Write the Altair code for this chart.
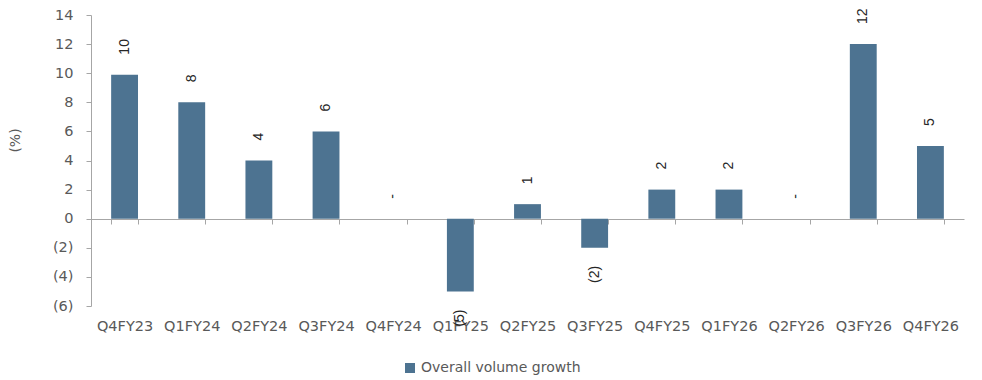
import altair as alt
import pandas as pd

quarters = ["Q4FY23", "Q1FY24", "Q2FY24", "Q3FY24", "Q4FY24", "Q1FY25", "Q2FY25",
            "Q3FY25", "Q4FY25", "Q1FY26", "Q2FY26", "Q3FY26", "Q4FY26"]
growth = [9.9, 8, 4, 6, 0, -5, 1, -2, 2, 2, 0, 12, 5]
series_name = "Overall volume growth"


def fmt(v):
    r = int(round(v))
    if r == 0:
        return "-"
    if r < 0:
        return f"({abs(r)})"
    return str(r)


df = pd.DataFrame({
    "quarter": quarters,
    "value": growth,
    "label": [fmt(v) for v in growth],
    "series": [series_name] * len(quarters),
})

FONT = "DejaVu Sans"
GRAY = "#595959"
AXIS = "#a6a6a6"
BAR = "#4d7391"

x = alt.X(
    "quarter:N", sort=quarters, title=None,
    scale=alt.Scale(paddingInner=0.6, paddingOuter=0.3),
    axis=alt.Axis(
        orient="bottom", offset=-87, domainColor=AXIS, domainWidth=1,
        tickColor=AXIS, tickSize=5, tickBand="extent", labelAngle=0,
        labelPadding=95, labelFont=FONT, labelFontSize=14.5, labelColor=GRAY,
        grid=False, labelOverlap=False,
    ),
)
y = alt.Y(
    "value:Q", title="(%)",
    scale=alt.Scale(domain=[-6, 14], nice=False, zero=False),
    axis=alt.Axis(
        values=[-6, -4, -2, 0, 2, 4, 6, 8, 10, 12, 14],
        labelExpr="datum.value < 0 ? '(' + abs(datum.value) + ')' : '' + datum.value",
        domainColor=AXIS, tickColor=AXIS, tickSize=5, labelPadding=13,
        labelFont=FONT, labelFontSize=14.5, labelColor=GRAY, grid=False,
        labelOverlap=False, labelBound=False, labelFlush=False,
        titleFont=FONT, titleFontSize=14, titleColor=GRAY, titleFontWeight="normal",
        titleX=-69, titleY=125,
    ),
)

bars = alt.Chart(df).mark_bar(color=BAR).encode(
    x=x, y=y,
    color=alt.Color(
        "series:N", scale=alt.Scale(range=[BAR]), title=None,
        legend=alt.Legend(
            orient="none", legendX=312, legendY=346, symbolType="square",
            symbolSize=100, symbolStrokeWidth=0, labelFont=FONT, labelFontSize=14,
            labelColor=GRAY, symbolOpacity=1,
        ),
    ),
)

pos = alt.Chart(df).transform_filter("datum.value >= 0").mark_text(
    angle=270, align="left", baseline="middle", dx=20,
    font="Liberation Sans", fontSize=14, color="#262626",
).encode(x=x, y=y, text="label:N")

neg = alt.Chart(df).transform_filter("datum.value < 0").mark_text(
    angle=270, align="right", baseline="middle", dx=-18,
    font="Liberation Sans", fontSize=14, color="#262626",
).encode(x=x, y=y, text="label:N")

chart = alt.layer(bars, pos, neg).properties(
    width=873, height=291,
    background="white",
    autosize=alt.AutoSizeParams(type="none"),
    padding={"left": 91, "top": 15, "right": 18, "bottom": 74},
).configure_view(stroke=None, strokeWidth=0)

chart.save("out.html", embed_options={"renderer": "svg", "actions": False})
